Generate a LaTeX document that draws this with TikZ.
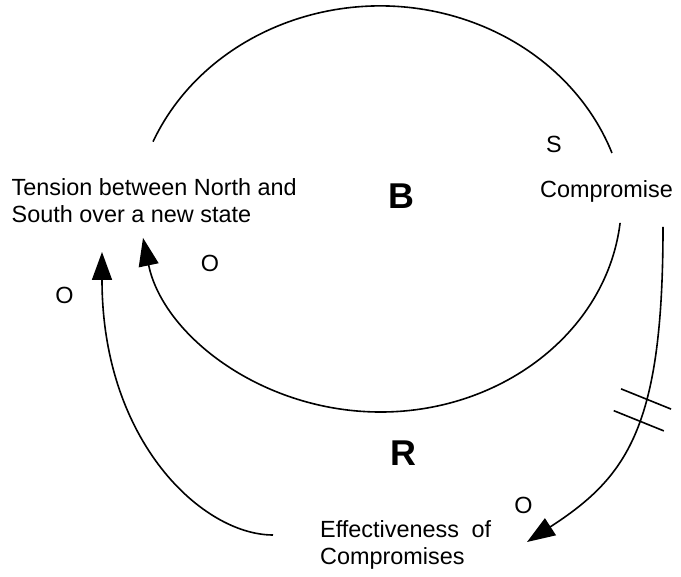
\documentclass[tikz,border=0pt]{standalone}
\usepackage{fontspec}
\setmainfont{Liberation Sans}
\usetikzlibrary{arrows.meta}

\begin{document}
\begin{tikzpicture}[
    x=1bp, y=1bp,
    varbox/.style={inner sep=0pt, anchor=base west, align=left, font=\fontsize{23.5}{28}\selectfont},
    polarity/.style={inner sep=0pt, font=\fontsize{23.5}{28}\selectfont},
    loopmark/.style={inner sep=0pt, font=\fontsize{36}{40}\selectfont\bfseries},
    link/.style={line width=1.6bp},
    arrow/.style={link, -{Triangle[length=28bp, width=20bp]}}
]
    \useasboundingbox (0,0) rectangle (681,577);

    % Variables (base = last line)
    \node[varbox] (tension) at (11.5,354) {Tension between North and\\South over a new state};
    \node[varbox] (compromise) at (540,379) {Compromise};
    \node[varbox] (effect) at (320,12) {Effectiveness \hspace{6bp}of\\Compromises};

    % Loop names and polarities
    \node[loopmark] (balance) at (401.5,380.5) {B};
    \node[loopmark] (reinforce) at (403.5,123.5) {R};
    \node[polarity] (s1) at (554,433) {S};
    \node[polarity] (o1) at (64.5,282) {O};
    \node[polarity] (o2) at (210,314) {O};
    \node[polarity] (o3) at (523.5,72) {O};

    % Connector ends
    \coordinate (tension top) at (153,435.3);
    \coordinate (tension tip) at (102,325);
    \coordinate (comp low) at (620.1,354.1);
    \coordinate (comp right) at (663,350);
    \coordinate (effect left) at (273,42);
    \coordinate (effect tip) at (527,35);

    % Balancing loop
    \draw[link] (tension top) arc[start angle=156.8, end angle=20.1, x radius=247, y radius=224];
    \draw[arrow] (comp low) arc[start angle=-6.2, end angle=-169.7, x radius=241.2, y radius=212];

    % Reinforcing loop, with delay
    \draw[arrow] (comp right) .. controls +(0,-200) and +(33:120) .. (effect tip)
        coordinate[pos=0.38] (delay1) coordinate[pos=0.45] (delay2);
    \draw[link] ([shift={(-22:27)}]delay1) -- ([shift={(158:27)}]delay1);
    \draw[link] ([shift={(-22:27)}]delay2) -- ([shift={(158:27)}]delay2);
    \draw[arrow] (effect left) .. controls +(-70,0) and +(0,-190) .. (tension tip);
\end{tikzpicture}
\end{document}
